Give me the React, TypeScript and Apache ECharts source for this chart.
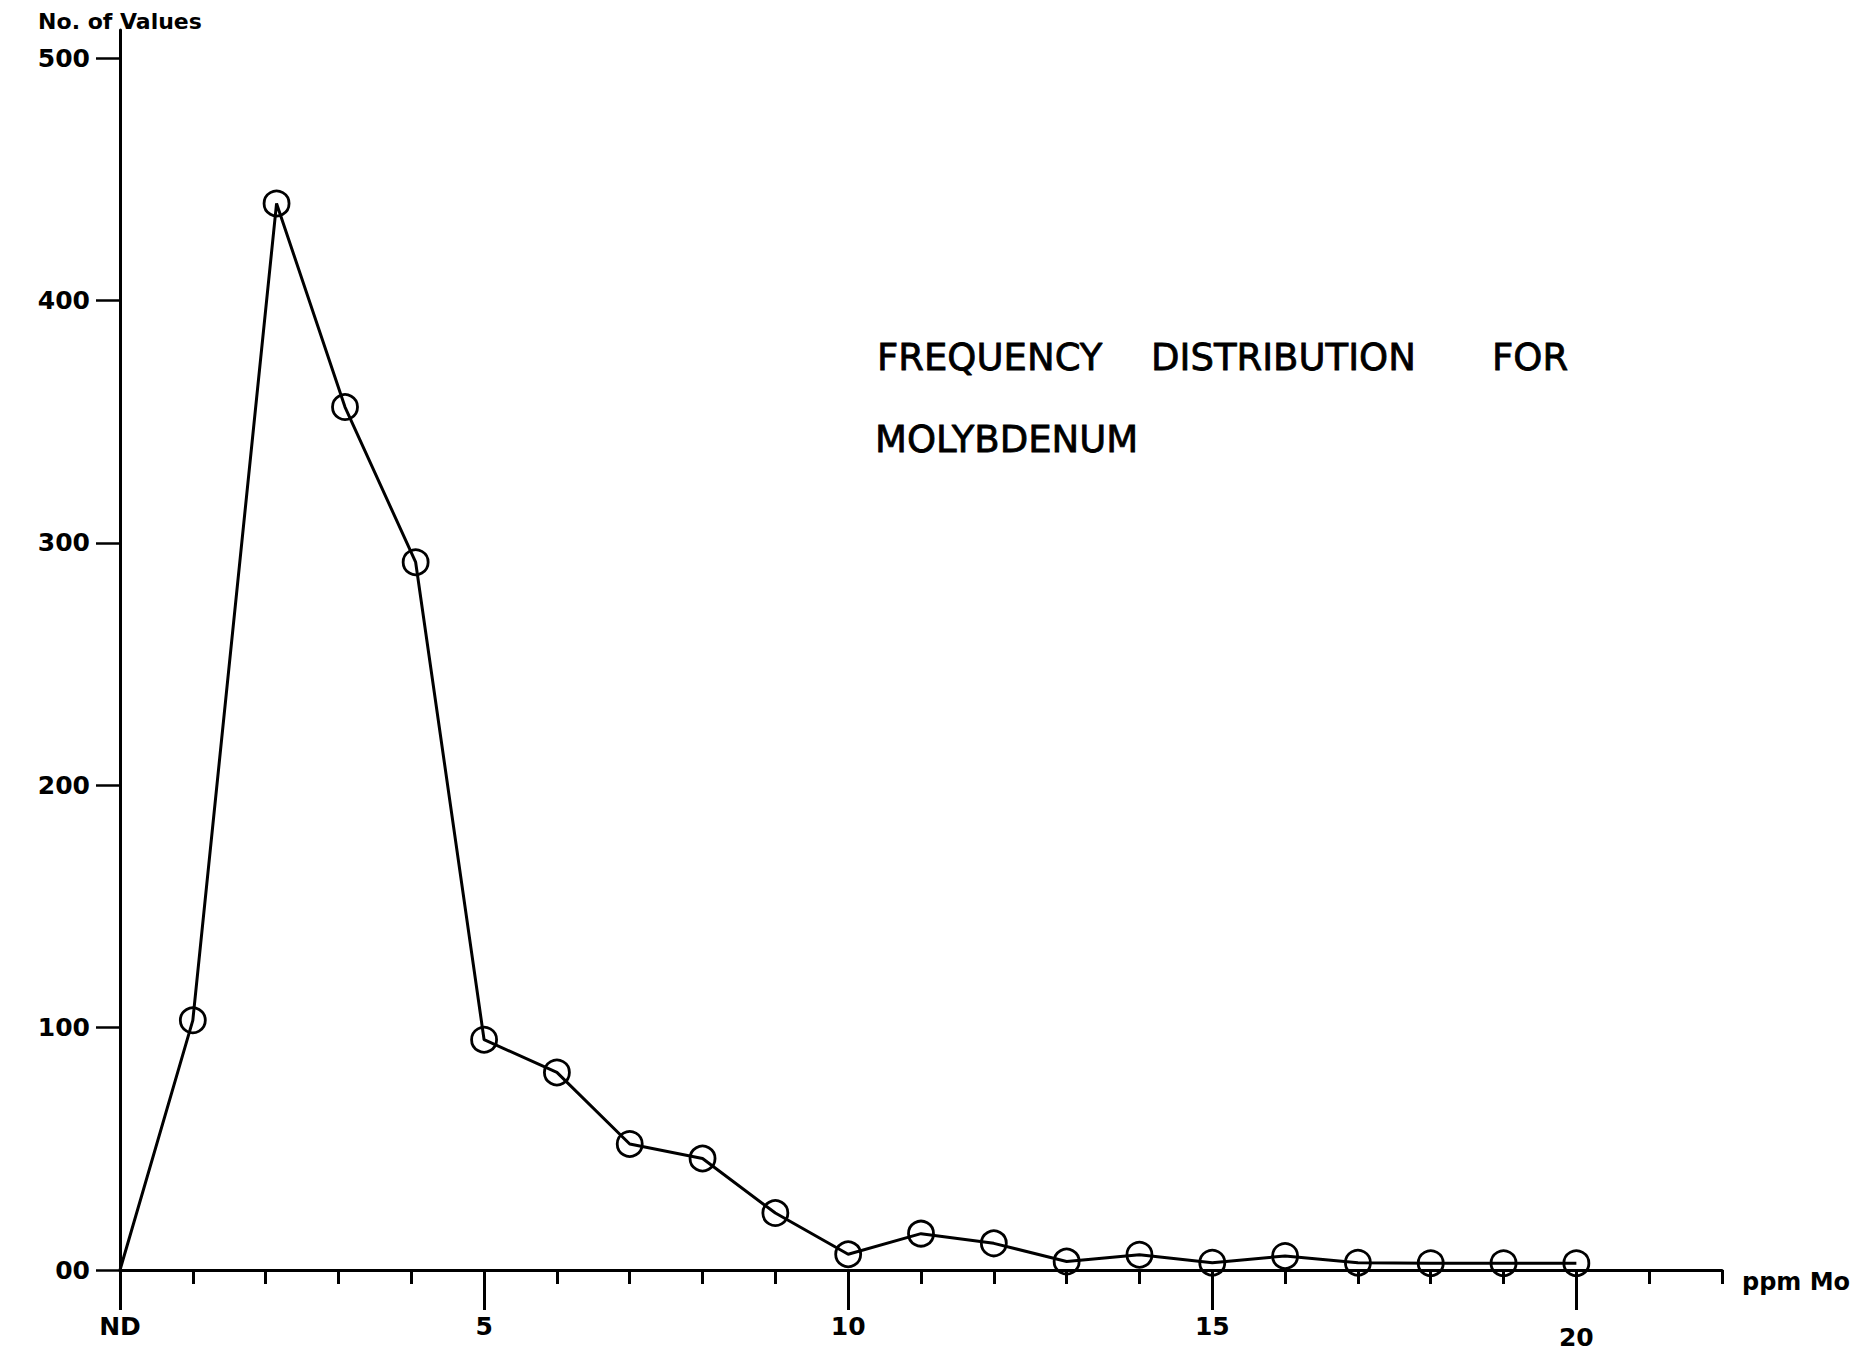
import React, { useEffect, useRef } from "react";
import * as echarts from "echarts";

// ppm Mo (x position of each plotted point; ND = 0)
const ppmValues = [0, 1, 2.15, 3.09, 4.06, 5, 6, 7, 8, 9, 10, 11, 12, 13, 14, 15, 16, 17, 18, 19, 20];
// No. of values at each point
const counts = [0, 103, 440, 356, 292, 95, 81.5, 52, 46, 23.5, 6.5, 15, 11, 3.5, 6.3, 3, 5.8, 3, 2.8, 2.8, 2.8];

const yTicks = [0, 100, 200, 300, 400, 500];
const xMajorTicks = [0, 5, 10, 15, 20];
const xMinorTicks = [1, 2, 3, 4, 6, 7, 8, 9, 11, 12, 13, 14, 16, 17, 18, 19, 21, 22];

const titleWords = [
  { text: "FREQUENCY", x: 877, y: 357 },
  { text: "DISTRIBUTION", x: 1151, y: 357 },
  { text: "FOR", x: 1492, y: 357 },
  { text: "MOLYBDENUM", x: 875, y: 439 },
];

const FONT = "DejaVu Sans";

export default function App() {
  const ref = useRef<HTMLDivElement>(null);

  useEffect(() => {
    if (!ref.current) return;
    const chart = echarts.init(ref.current, null, { renderer: "svg" });

    const data = ppmValues.map((x, i) =>
      i === 0 ? { value: [x, counts[i]], symbol: "none" } : { value: [x, counts[i]] }
    );

    chart.setOption({
      animation: false,
      backgroundColor: "#ffffff",
      grid: [
        { left: 120, right: 144, top: 58, bottom: 85 },
        { left: 120, right: 144, top: 30, bottom: 85 },
      ],
      xAxis: [
        {
          type: "value",
          gridIndex: 0,
          min: 0,
          max: 22,
          interval: 1,
          axisLine: { show: true, onZero: false, lineStyle: { color: "#000", width: 3 } },
          axisTick: {
            show: true,
            customValues: xMajorTicks,
            length: 40,
            lineStyle: { color: "#000", width: 3 },
          },
          axisLabel: {
            show: true,
            customValues: xMajorTicks,
            margin: 44,
            color: "#000",
            fontFamily: FONT,
            fontWeight: "bold",
            fontSize: 25,
            formatter: (v: number) => (v === 0 ? "ND" : v === 20 ? "{low|20}" : String(v)),
            rich: {
              low: {
                fontFamily: FONT,
                fontWeight: "bold",
                fontSize: 25,
                color: "#000",
                padding: [11, 0, 0, 0],
              },
            },
          },
          splitLine: { show: false },
          name: "ppm Mo",
          nameLocation: "end",
          nameGap: 20,
          nameTextStyle: {
            color: "#000",
            fontFamily: FONT,
            fontWeight: "bold",
            fontSize: 24,
            verticalAlign: "top",
            padding: [0, 0, 0, 0],
          },
        },
        {
          type: "value",
          gridIndex: 1,
          min: 0,
          max: 22,
          interval: 1,
          axisLine: { show: false },
          axisTick: {
            show: true,
            customValues: xMinorTicks,
            length: 14,
            lineStyle: { color: "#000", width: 3 },
          },
          axisLabel: { show: false },
          splitLine: { show: false },
        },
      ],
      yAxis: [
        {
          type: "value",
          gridIndex: 0,
          min: 0,
          max: 500,
          interval: 100,
          axisLine: { show: true, lineStyle: { color: "#000", width: 3 } },
          axisTick: { show: true, length: 24, lineStyle: { color: "#000", width: 2.5 } },
          axisLabel: {
            margin: 30,
            color: "#000",
            fontFamily: FONT,
            fontWeight: "bold",
            fontSize: 25,
            customValues: yTicks,
            formatter: (v: number) => (v === 0 ? "00" : String(v)),
          },
          splitLine: { show: false },
          name: "No. of Values",
          nameLocation: "end",
          nameGap: 26,
          nameTextStyle: {
            color: "#000",
            fontFamily: FONT,
            fontWeight: "bold",
            fontSize: 22,
            align: "center",
          },
        },
        {
          type: "value",
          gridIndex: 1,
          min: 0,
          max: 1,
          axisLine: { show: true, lineStyle: { color: "#000", width: 3 } },
          axisTick: { show: false },
          axisLabel: { show: false },
          splitLine: { show: false },
        },
      ],
      graphic: titleWords.map((w) => ({
        type: "text",
        x: w.x,
        y: w.y,
        style: {
          text: w.text,
          fill: "#000",
          stroke: "#000",
          lineWidth: 0.8,
          font: `normal 37px "${FONT}"`,
          verticalAlign: "middle",
          align: "left",
        },
      })),
      series: [
        {
          type: "line",
          xAxisIndex: 0,
          yAxisIndex: 0,
          data,
          symbol: "circle",
          symbolSize: 25,
          lineStyle: { color: "#000", width: 3 },
          itemStyle: { color: "rgba(0,0,0,0)", borderColor: "#000", borderWidth: 2.8 },
          emphasis: { disabled: true },
          z: 3,
        },
      ],
    });

    return () => chart.dispose();
  }, []);

  return (
    <div
      ref={ref}
      style={{ position: "fixed", left: 0, top: 0, width: 1866, height: 1355, background: "#fff" }}
    />
  );
}
